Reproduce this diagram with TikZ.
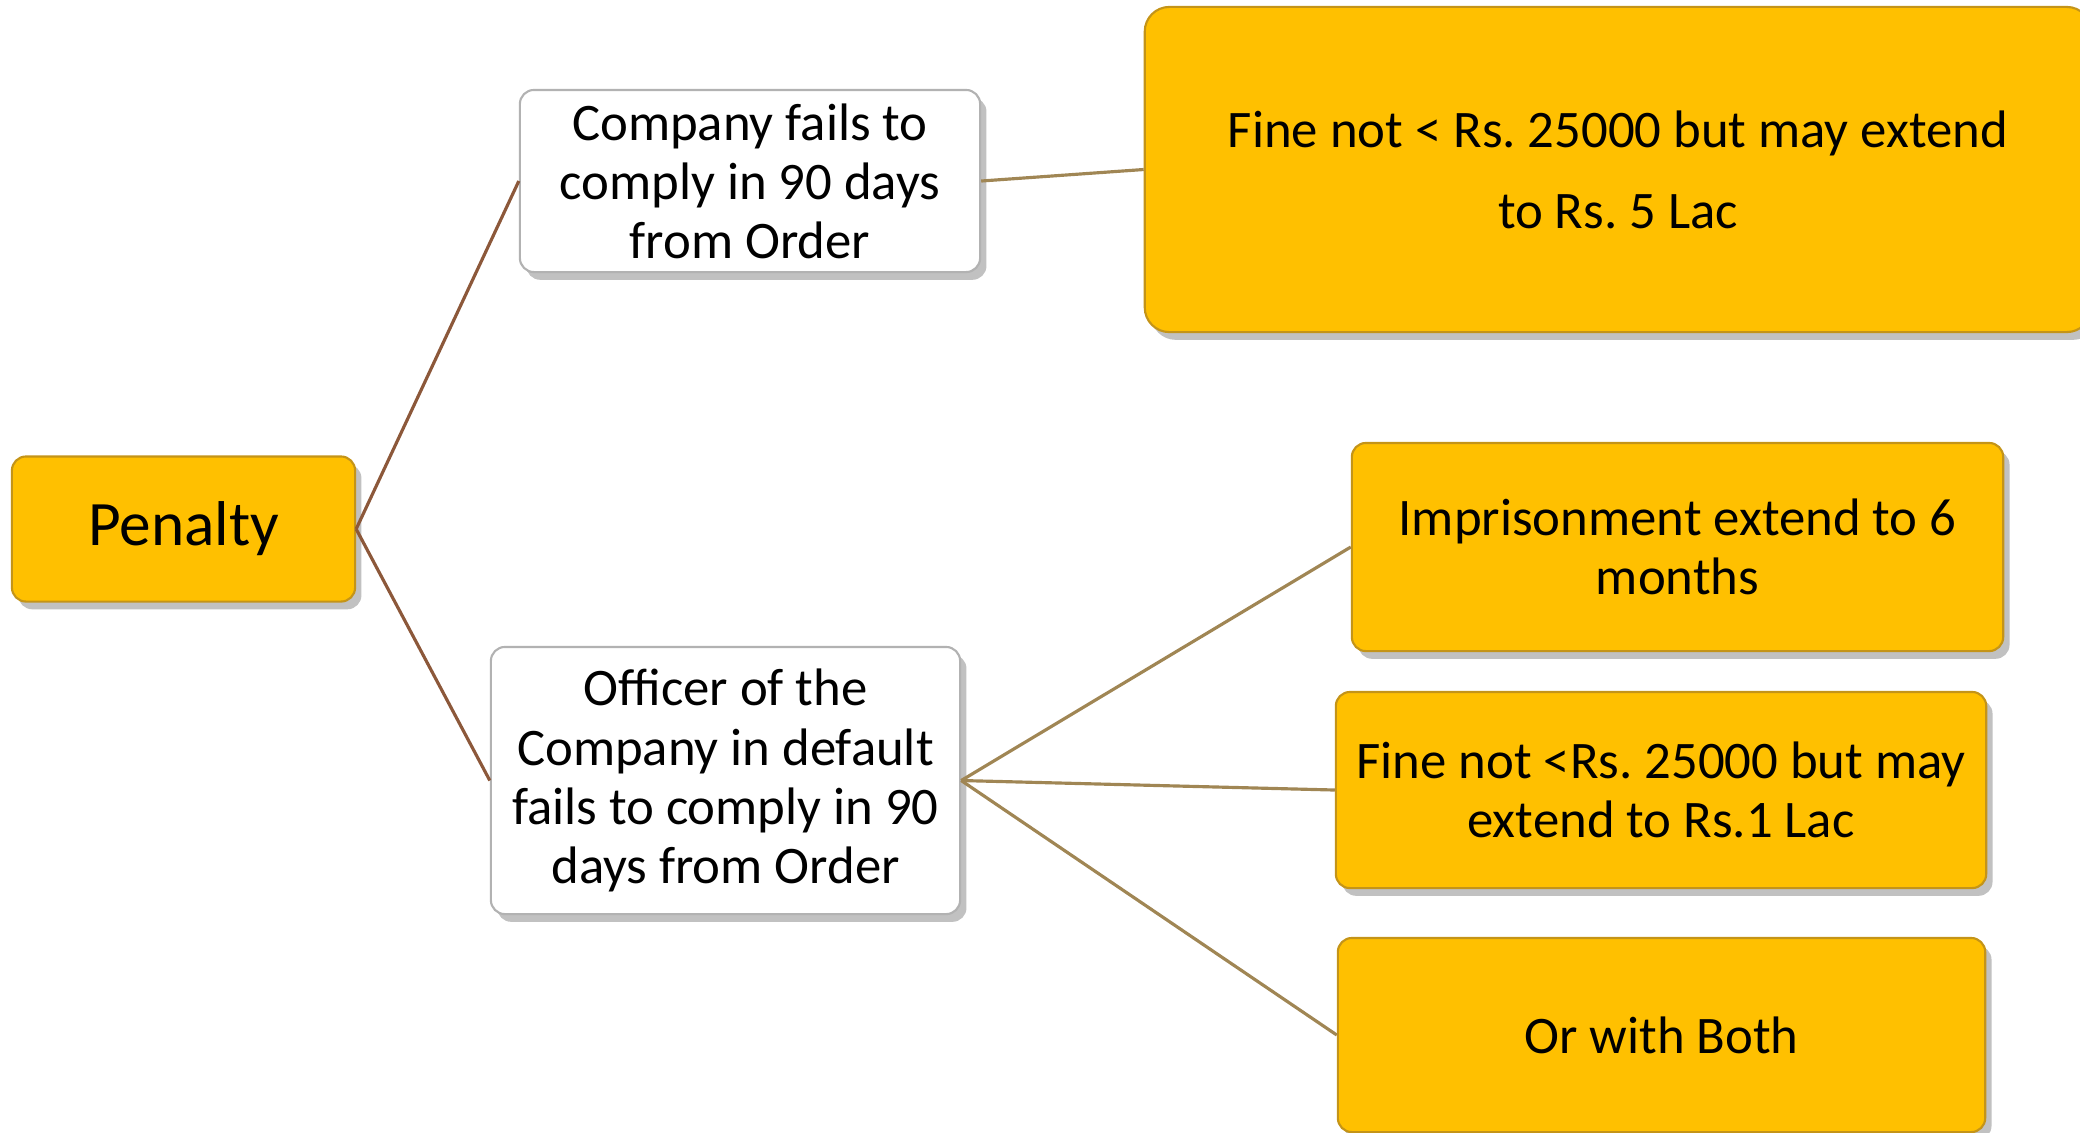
\documentclass[tikz,border=0pt]{standalone}
\usepackage{fontspec}
\setmainfont{Carlito}
\frenchspacing
\usetikzlibrary{shadows}
\definecolor{gold}{RGB}{255,192,0}
\definecolor{goldline}{RGB}{196,148,24}
\definecolor{brownline}{RGB}{140,88,58}
\definecolor{tanline}{RGB}{160,134,84}

\begin{document}
\begin{tikzpicture}[
    x=0.01cm, y=-0.01cm,
    box/.style={rectangle, rounded corners=4pt, align=center, inner sep=0pt,
        font=\fontsize{15}{16.8}\selectfont,
        drop shadow={shadow xshift=1.8pt, shadow yshift=-2.2pt, opacity=0.35, fill=black!70}},
    goldbox/.style={box, fill=gold, draw=goldline, line width=0.6pt},
    whitebox/.style={box, fill=white, draw=black!30, line width=0.6pt},
    rootlink/.style={brownline, line width=0.9pt},
    leaflink/.style={tanline, line width=0.9pt},
]

% Frame of the picture
\useasboundingbox (0,0) rectangle (2080,1132);
\clip (0,0) rectangle (2080,1132);

% Root
\node[goldbox, minimum width=3.43cm, minimum height=1.45cm, font=\fontsize{18}{20}\selectfont]
      (pen) at (183.5,529) {Penalty};

% Company branch
\node[whitebox, minimum width=4.6cm, minimum height=1.82cm]
      (comp) at (750,181) {Company fails to\\comply in 90 days\\from Order};
\node[goldbox, rounded corners=7pt, minimum width=9.46cm, minimum height=3.25cm,
      font=\fontsize{15}{23}\selectfont]
      (fineco) at (1618,169.5) {Fine not < Rs. 25000 but may extend\\to Rs. 5 Lac};

% Officer branch
\node[whitebox, minimum width=4.69cm, minimum height=2.67cm]
      (off) at (725.5,780.5) {Officer of the\\Company in default\\fails to comply in 90\\days from Order};
\node[goldbox, minimum width=6.51cm, minimum height=2.08cm]
      (jail) at (1677.5,547) {Imprisonment extend to 6\\months};
\node[goldbox, minimum width=6.5cm, minimum height=1.96cm]
      (fineoff) at (1661,790) {Fine not <Rs. 25000 but may\\extend to Rs.1 Lac};
\node[goldbox, minimum width=6.47cm, minimum height=1.94cm]
      (both) at (1661.5,1035) {Or with Both};

% Connectors
\draw[rootlink] (pen.east) -- (comp.west);
\draw[rootlink] (pen.east) -- (off.west);
\draw[leaflink] (comp.east) -- (fineco.west);
\draw[leaflink] (off.east) -- (jail.west);
\draw[leaflink] (off.east) -- (fineoff.west);
\draw[leaflink] (off.east) -- (both.west);

\end{tikzpicture}
\end{document}
